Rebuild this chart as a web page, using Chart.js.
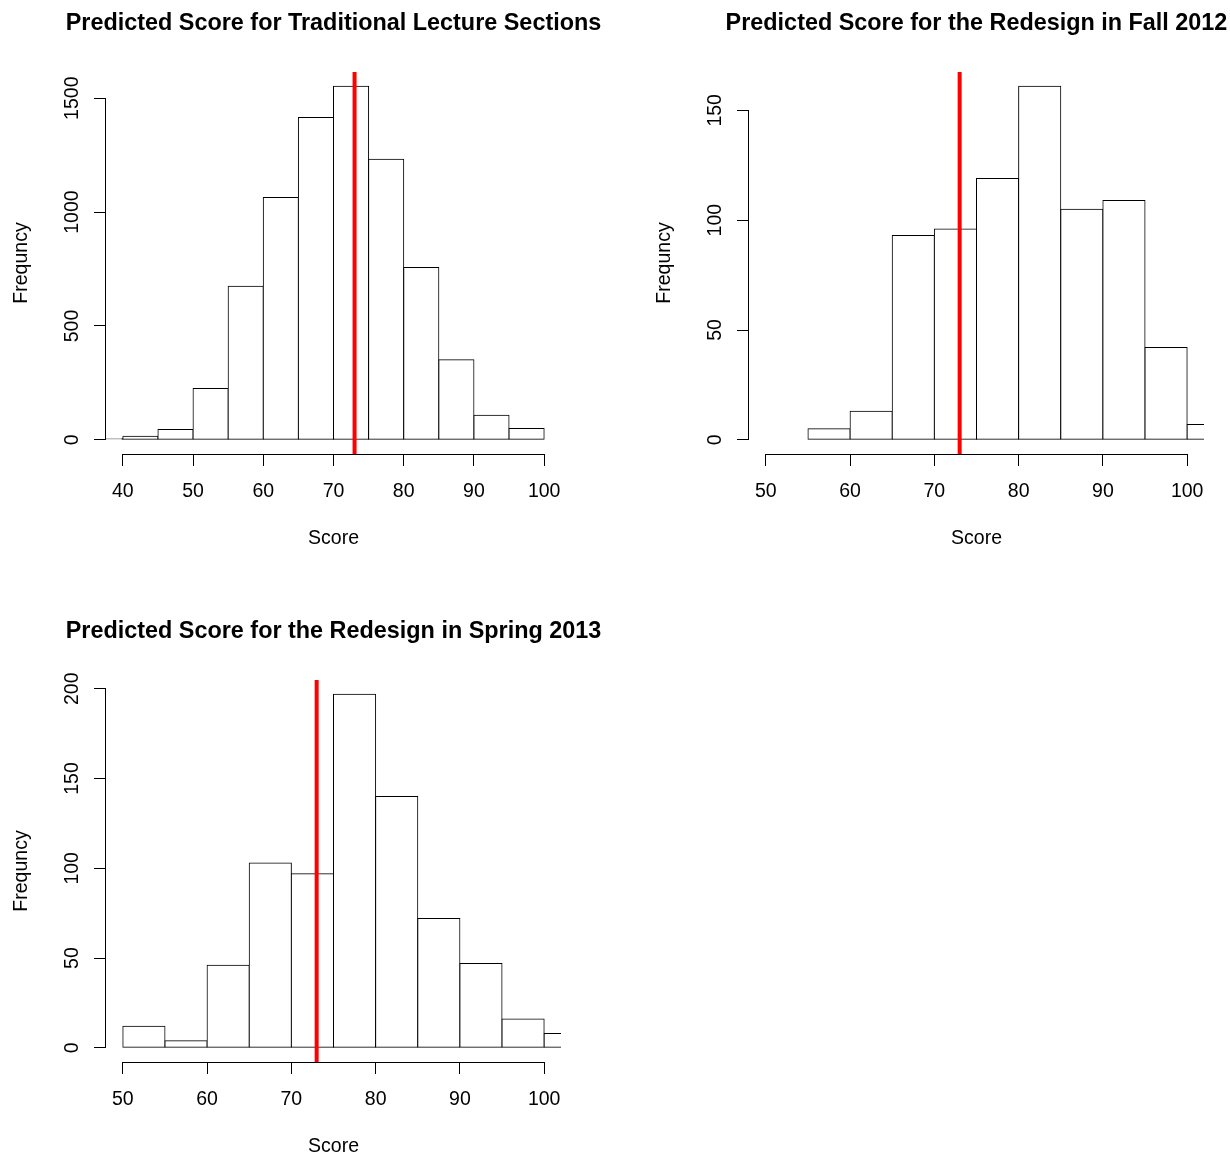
<!DOCTYPE html>
<html lang="en">
<head>
<meta charset="UTF-8">
<title>Predicted Score Histograms</title>
<script src="https://cdn.jsdelivr.net/npm/chart.js"></script>
<style>
  html, body { margin: 0; padding: 0; background: #fff; overflow: hidden; }
  #page { position: relative; width: 1230px; height: 1155px; overflow: hidden; background: #fff; }
  #page canvas { position: absolute; }
</style>
</head>
<body>
<div id="page">
  <canvas id="traditional" width="667" height="577" style="left:0px;top:0px"></canvas>
  <canvas id="spring2013" width="667" height="577" style="left:0px;top:608px"></canvas>
  <canvas id="fall2012" width="667" height="577" style="left:643px;top:0px"></canvas>
</div>
<script>
// bin midpoints (5-point bins) and counts
const tradBins   = [37.5, 42.5, 47.5, 52.5, 57.5, 62.5, 67.5, 72.5, 77.5, 82.5, 87.5, 92.5, 97.5];
const tradCounts = [6, 16, 45, 226, 674, 1064, 1415, 1553, 1232, 757, 352, 108, 50];

const fallBins   = [57.5, 62.5, 67.5, 72.5, 77.5, 82.5, 87.5, 92.5, 97.5, 102.5];
const fallCounts = [5, 13, 93, 96, 119, 161, 105, 109, 42, 7];

const springBins   = [52.5, 57.5, 62.5, 67.5, 72.5, 77.5, 82.5, 87.5, 92.5, 97.5, 102.5];
const springCounts = [12, 4, 46, 103, 97, 197, 140, 72, 47, 16, 8];

// axis limits and tick labels
const tradXLim = [40, 100];
const redesignXLim = [50, 100];
const tradXTicks = [40, 50, 60, 70, 80, 90, 100];
const redesignXTicks = [50, 60, 70, 80, 90, 100];
const tradYTicks = [0, 500, 1000, 1500];
const fallYTicks = [0, 50, 100, 150];
const springYTicks = [0, 50, 100, 150, 200];

// vertical reference line
const cutoffScore = 73;

const FAMILY = '"Liberation Sans", Arial, Helvetica, sans-serif';
const BASE = 19.5;

Chart.defaults.font.family = FAMILY;
Chart.defaults.font.size = BASE;
Chart.defaults.color = '#000';

const measureCtx = document.createElement('canvas').getContext('2d');

// R style axis lines: only from first to last tick
const rAxisLines = {
    id: 'rAxisLines',
    afterDraw(chart) {
        const { ctx, scales: { x, y }, chartArea } = chart;
        const align = p => Math.round(p - 0.5) + 0.5;
        const xs = x.ticks.map(t => align(x.getPixelForValue(t.value)));
        const ys = y.ticks.map(t => align(y.getPixelForValue(t.value)));
        ctx.save();
        ctx.strokeStyle = '#000';
        ctx.lineWidth = 1;
        ctx.beginPath();
        const by = Math.round(chartArea.bottom) + 0.5;
        ctx.moveTo(xs[0] - 0.5, by);
        ctx.lineTo(xs[xs.length - 1] + 0.5, by);
        const lx = Math.round(chartArea.left) - 0.5;
        ctx.moveTo(lx, ys[0] + 0.5);
        ctx.lineTo(lx, ys[ys.length - 1] - 0.5);
        ctx.stroke();
        ctx.restore();
    }
};

function makeHistogram(canvasId, title, bins, counts, xLim, xTicks, yTicks) {
    // R extends axis ranges by 4% on each side
    const xPad = (xLim[1] - xLim[0]) * 0.04;
    const yTop = Math.max(...counts);
    const yMin = -yTop * 0.04;
    const yMax = yTop * 1.04;

    measureCtx.font = BASE + 'px ' + FAMILY;
    const widest = Math.max(...yTicks.map(v => measureCtx.measureText(String(v)).width));
    const yPadding = 106 - 12 - 72.5 - widest / 2;

    return new Chart(document.getElementById(canvasId), {
        type: 'bar',
        data: {
            datasets: [
                {
                    type: 'line',
                    data: [{ x: cutoffScore, y: yMin }, { x: cutoffScore, y: yMax }],
                    borderColor: '#ff0000',
                    borderWidth: 4,
                    pointRadius: 0,
                    order: 1
                },
                {
                    type: 'bar',
                    data: bins.map((b, i) => ({ x: b, y: counts[i] })),
                    backgroundColor: '#ffffff',
                    borderColor: '#000000',
                    borderWidth: 1,
                    borderSkipped: false,
                    inflateAmount: 0.5,
                    barPercentage: 1,
                    categoryPercentage: 1,
                    clip: 0,
                    order: 2
                }
            ]
        },
        options: {
            responsive: false,
            animation: false,
            events: [],
            layout: { padding: 0 },
            plugins: {
                legend: { display: false },
                tooltip: { enabled: false },
                title: {
                    display: true,
                    text: title,
                    color: '#000',
                    font: { size: BASE * 1.2, weight: 'bold' },
                    padding: { top: 10, bottom: 33.92 }
                }
            },
            scales: {
                x: {
                    type: 'linear',
                    min: xLim[0] - xPad,
                    max: xLim[1] + xPad,
                    offset: false,
                    grid: { display: true, offset: false, drawOnChartArea: false, drawTicks: true, tickLength: 12, color: '#000', lineWidth: 1 },
                    border: { display: false },
                    ticks: { autoSkip: false, maxRotation: 0, padding: 13.6, color: '#000', callback: v => String(v) },
                    afterBuildTicks: s => { s.ticks = xTicks.map(v => ({ value: v })); },
                    afterFit: s => { s.height = 123; },
                    title: { display: true, text: 'Score', color: '#000', padding: { top: 0, bottom: 26.3 } }
                },
                y: {
                    type: 'linear',
                    position: 'left',
                    min: yMin,
                    max: yMax,
                    grid: { display: true, drawOnChartArea: false, drawTicks: true, tickLength: 12, color: '#000', lineWidth: 1 },
                    border: { display: false },
                    ticks: { autoSkip: false, minRotation: 90, maxRotation: 90, crossAlign: 'center', padding: yPadding, color: '#000', callback: v => String(v) },
                    afterBuildTicks: s => { s.ticks = yTicks.map(v => ({ value: v })); },
                    afterFit: s => { s.width = 106; },
                    title: { display: true, text: 'Frequncy', color: '#000', padding: { top: 9.6, bottom: 0 } }
                },
                // empty right margin, so the title is centred over the plot region
                rightMargin: {
                    type: 'linear',
                    position: 'right',
                    grid: { display: false },
                    border: { display: false },
                    ticks: { display: false },
                    afterFit: s => { s.width = 106; }
                }
            }
        },
        plugins: [rAxisLines]
    });
}

makeHistogram('traditional', 'Predicted Score for Traditional Lecture Sections',
    tradBins, tradCounts, tradXLim, tradXTicks, tradYTicks);
makeHistogram('fall2012', 'Predicted Score for the Redesign in Fall 2012',
    fallBins, fallCounts, redesignXLim, redesignXTicks, fallYTicks);
makeHistogram('spring2013', 'Predicted Score for the Redesign in Spring 2013',
    springBins, springCounts, redesignXLim, redesignXTicks, springYTicks);
</script>
</body>
</html>
